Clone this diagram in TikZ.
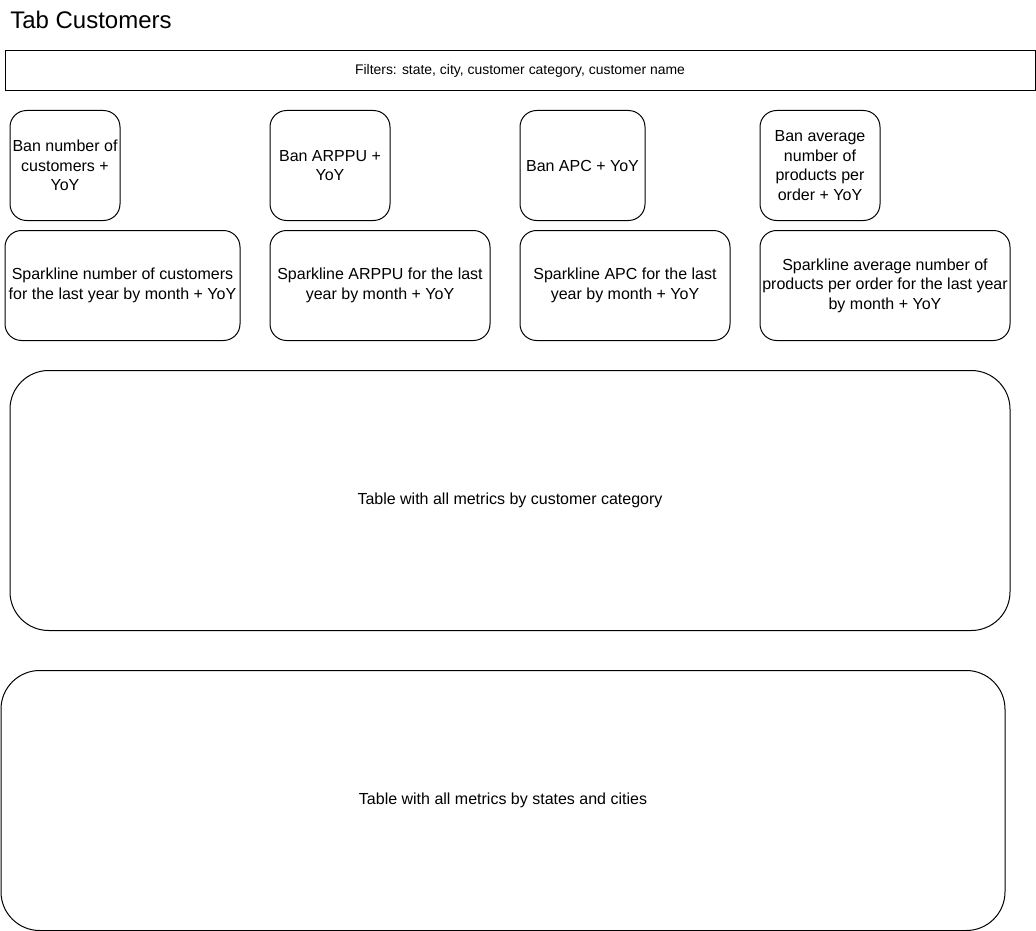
\documentclass[tikz,border=0pt]{standalone}
\usepackage{fontspec}
\setmainfont{Liberation Sans}
\begin{document}
\begin{tikzpicture}[x=0.75pt,y=-0.75pt,
  lbl/.style={font=\fontsize{12pt}{14.6pt}\selectfont, align=center},
  boxbase/.style={lbl, draw=black, line width=0.75pt, inner sep=0pt, fill=white},
  smallbox/.style={boxbase, rounded corners=12.4pt, minimum height=82.5pt},
  bigbox/.style={boxbase, rounded corners=29pt, minimum height=195pt},
  filterbox/.style={boxbase, minimum height=30pt, font=\fontsize{10.45pt}{14pt}\selectfont},
  titletxt/.style={font=\fontsize{18pt}{20pt}\selectfont, inner sep=0pt, anchor=west}]
\useasboundingbox[fill=white] (0,0) rectangle (1036,931);
\node[titletxt] (title) at (10,20) {Tab Customers};
\node[filterbox, minimum width=772.5pt] (filters) at (520,70.5) {Filters: state, city, customer category, customer name};
\node[smallbox, minimum width=82.5pt] (ban1) at (65,165.5) {Ban number of\\customers +\\YoY};
\node[smallbox, minimum width=90pt] (ban2) at (330,165.5) {Ban ARPPU +\\YoY};
\node[smallbox, minimum width=93.75pt] (ban3) at (582.5,165.5) {Ban APC + YoY};
\node[smallbox, minimum width=90pt] (ban4) at (820,165.5) {Ban average\\number of\\products per\\order + YoY};
\node[smallbox, minimum width=176.25pt] (sp1) at (122.5,285.5) {Sparkline number of customers\\for the last year by month + YoY};
\node[smallbox, minimum width=165pt] (sp2) at (380,285.5) {Sparkline ARPPU for the last\\year by month + YoY};
\node[smallbox, minimum width=157.5pt] (sp3) at (625,285.5) {Sparkline APC for the last\\year by month + YoY};
\node[smallbox, minimum width=187.5pt] (sp4) at (885,285.5) {Sparkline average number of\\products per order for the last year\\by month + YoY};
\node[bigbox, minimum width=750pt] (tab1) at (510,500.5) {Table with all metrics by customer category};
\node[bigbox, minimum width=753pt] (tab2) at (503,800.5) {Table with all metrics by states and cities};
\end{tikzpicture}
\end{document}
